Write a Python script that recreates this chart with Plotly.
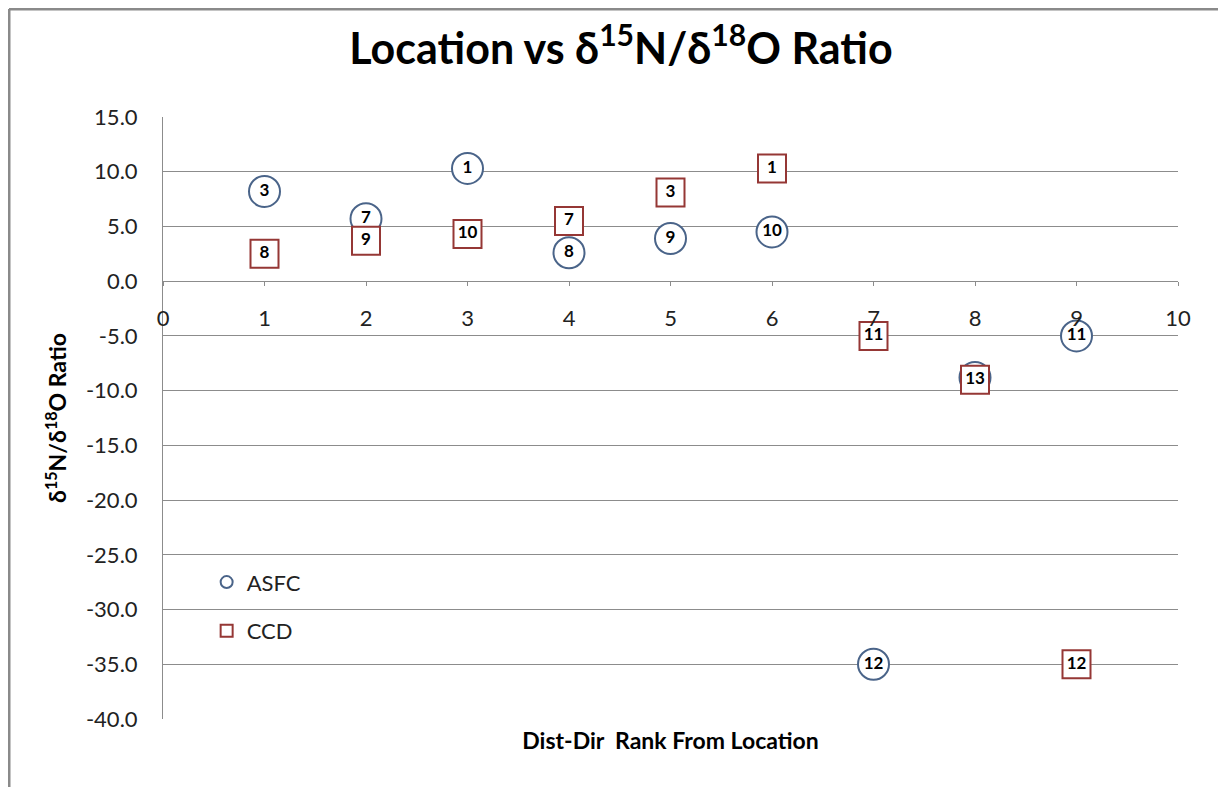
import plotly.graph_objects as go

# ---- data ----
asfc_x = [1, 2, 3, 4, 5, 6, 7, 8, 9]
asfc_y = [8.2, 5.7, 10.3, 2.6, 3.9, 4.5, -35.0, -8.8, -5.0]
asfc_labels = ["3", "7", "1", "8", "9", "10", "12", "13", "11"]

ccd_x = [1, 2, 3, 4, 5, 6, 7, 8, 9]
ccd_y = [2.5, 3.7, 4.3, 5.5, 8.1, 10.3, -5.0, -9.0, -35.0]
ccd_labels = ["8", "9", "10", "7", "3", "1", "11", "13", "12"]

x_ticks = list(range(0, 11))
y_ticks = [15, 10, 5, 0, -5, -10, -15, -20, -25, -30, -35, -40]

X_RANGE = [0, 10]
Y_RANGE = [-40, 15]

FONT = "Lato, 'Open Sans', sans-serif"
GRID = "#8c8c8c"
BLUE = "#4a6489"
RED = "#953735"

L, R, T, B = 155, 56, 109, 76
PW = 1226 - L - R
PH = 787 - T - B

fig = go.Figure()

fig.add_trace(go.Scatter(
    x=asfc_x, y=asfc_y, text=asfc_labels, name="ASFC",
    mode="markers+text", textposition="middle center",
    textfont=dict(family=FONT, size=17, color="black", weight="bold"),
    marker=dict(symbol="circle", size=31, color="white",
                line=dict(color=BLUE, width=2)),
    legendgroup="a", cliponaxis=False,
))
fig.add_trace(go.Scatter(
    x=ccd_x, y=ccd_y, text=ccd_labels, name="CCD",
    mode="markers+text", textposition="middle center",
    textfont=dict(family=FONT, size=17, color="black", weight="bold"),
    marker=dict(symbol="square", size=28, color="white",
                line=dict(color=RED, width=2)),
    legendgroup="b", cliponaxis=False,
))

zero_pos = (0 - Y_RANGE[0]) / (Y_RANGE[1] - Y_RANGE[0])

fig.update_layout(
    width=1226, height=787,
    margin=dict(l=L, r=R, t=T, b=B),
    paper_bgcolor="white", plot_bgcolor="white",
    font=dict(family=FONT, color="#222222"),
    title=dict(
        text="<b>Location vs δ<sup>15</sup>N/δ<sup>18</sup>O Ratio</b>",
        x=0.5, xanchor="center", y=0.948, yanchor="middle",
        font=dict(family=FONT, size=43, color="black"),
    ),
    xaxis=dict(
        range=X_RANGE, showgrid=False, zeroline=False, showline=False,
        showticklabels=False, ticks="",
        title=dict(text="<b>Dist-Dir  Rank From Location</b>",
                   font=dict(family=FONT, size=23, color="black"), standoff=13),
    ),
    xaxis2=dict(
        range=X_RANGE, overlaying="x", anchor="free", position=zero_pos,
        side="bottom", matches="x",
        tickmode="array", tickvals=x_ticks, ticktext=[str(v) for v in x_ticks],
        showgrid=False, zeroline=False, showline=True, linecolor=GRID, linewidth=1,
        ticks="outside", ticklen=4, tickcolor=GRID,
        tickfont=dict(family=FONT, size=22, color="#222222"),
        ticklabelstandoff=13,
    ),
    yaxis=dict(
        range=Y_RANGE, tickmode="array", tickvals=y_ticks,
        ticktext=[f"{v:.1f}" for v in y_ticks],
        showgrid=True, gridcolor=GRID, gridwidth=1,
        zeroline=False, showline=True, linecolor=GRID, linewidth=1,
        ticks="", tickfont=dict(family=FONT, size=22, color="#222222"),
        ticklabelstandoff=20,
        title=dict(text="<b>δ<sup>15</sup>N/δ<sup>18</sup>O Ratio</b>",
                   font=dict(family=FONT, size=23, color="black"), standoff=12),
    ),
    legend=dict(
        x=0.043, y=0.262, xanchor="left", yanchor="top",
        bgcolor="rgba(0,0,0,0)", font=dict(family=FONT, size=22, color="#222222"),
        tracegroupgap=17, itemsizing="constant", itemwidth=30,
    ),
    showlegend=True,
)

# invisible trace on xaxis2 so the overlay axis renders
fig.add_trace(go.Scatter(x=[X_RANGE[0]], y=[Y_RANGE[0]], xaxis="x2", mode="markers",
                         marker=dict(opacity=0), showlegend=False, hoverinfo="skip"))

# outer chart frame (left and top edges)
fx = -(L - 1) / PW
fy = 1 + (T - 1) / PH
fig.add_shape(type="line", xref="paper", yref="paper",
              x0=fx, x1=fx, y0=fy, y1=-0.3,
              line=dict(color="#8a8a8a", width=3))
fig.add_shape(type="line", xref="paper", yref="paper",
              x0=fx, x1=1.2, y0=fy, y1=fy,
              line=dict(color="#8a8a8a", width=3))

fig.write_html("out.html")
